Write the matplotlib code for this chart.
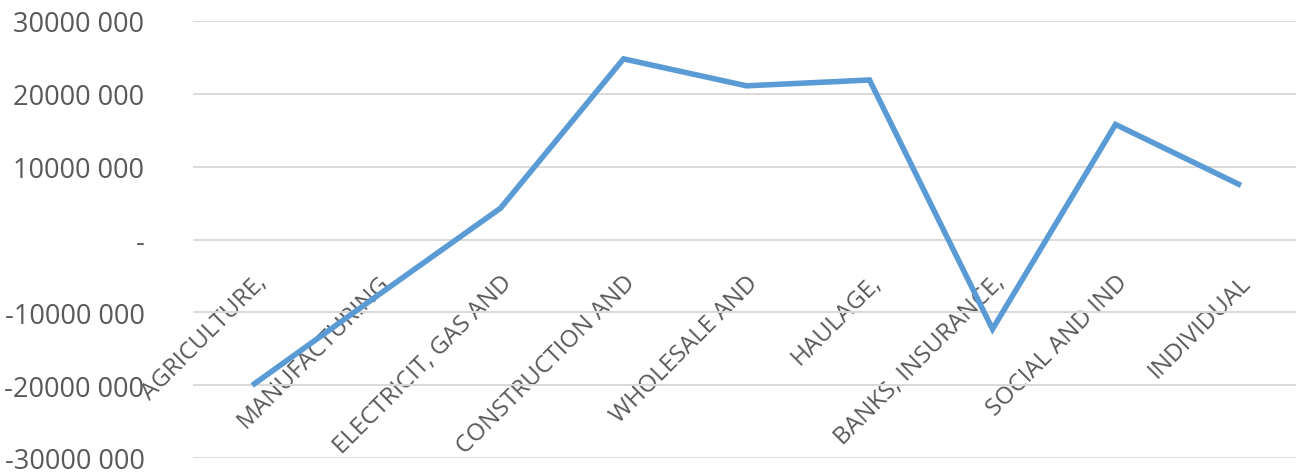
"""Line chart of values by sector, Excel-style layout."""

import matplotlib.pyplot as plt
from matplotlib.ticker import FuncFormatter

CATEGORIES = [
    "AGRICULTURE,",
    "MANUFACTURING",
    "ELECTRICIT, GAS AND",
    "CONSTRUCTION AND",
    "WHOLESALE AND",
    "HAULAGE,",
    "BANKS, INSURANCE,",
    "SOCIAL AND IND",
    "INDIVIDUAL",
]
VALUES = [
    -19_800_000,
    -7_700_000,
    4_300_000,
    24_800_000,
    21_100_000,
    21_900_000,
    -12_300_000,
    15_800_000,
    7_600_000,
]
Y_TICKS = [-30_000_000, -20_000_000, -10_000_000, 0, 10_000_000, 20_000_000, 30_000_000]

LINE_COLOR = "#5B9BD5"
TEXT_COLOR = "#595959"
GRID_COLOR = "#D9D9D9"


def fmt_value(v, _pos):
    """Format like '20000 000', with '-' for zero."""
    if v == 0:
        return "-"
    sign = "-" if v < 0 else ""
    v = abs(int(round(v)))
    return f"{sign}{v // 1000}" + f" {v % 1000:03d}"


def main() -> None:
    plt.rcParams["font.family"] = ["Open Sans", "DejaVu Sans"]

    fig = plt.figure(figsize=(12.96, 4.77), dpi=100)
    ax = fig.add_axes([193 / 1296, 18 / 477, 1107 / 1296, 437 / 477])

    x = list(range(len(CATEGORIES)))
    ax.plot(x, VALUES, color=LINE_COLOR, linewidth=4.0, solid_joinstyle="miter", zorder=3)

    ax.set_xlim(-0.5, len(CATEGORIES) - 0.5)
    ax.set_ylim(-30_000_000, 30_000_000)
    ax.set_yticks(Y_TICKS)
    ax.yaxis.set_major_formatter(FuncFormatter(fmt_value))
    ax.grid(axis="y", color=GRID_COLOR, linewidth=1.4)
    ax.set_axisbelow(True)

    for side in ("top", "right", "left"):
        ax.spines[side].set_visible(False)
    ax.spines["bottom"].set_position(("data", 0))
    ax.spines["bottom"].set_visible(False)

    ax.set_xticks(x)
    ax.set_xticklabels(
        CATEGORIES, rotation=45, ha="right", rotation_mode="anchor",
        fontsize=17.5, color=TEXT_COLOR,
    )
    ax.tick_params(axis="x", length=0, pad=22)
    ax.tick_params(axis="y", length=0, pad=35, labelsize=19.5, labelcolor=TEXT_COLOR)

    fig.savefig("out.png", dpi=100)


if __name__ == "__main__":
    main()
